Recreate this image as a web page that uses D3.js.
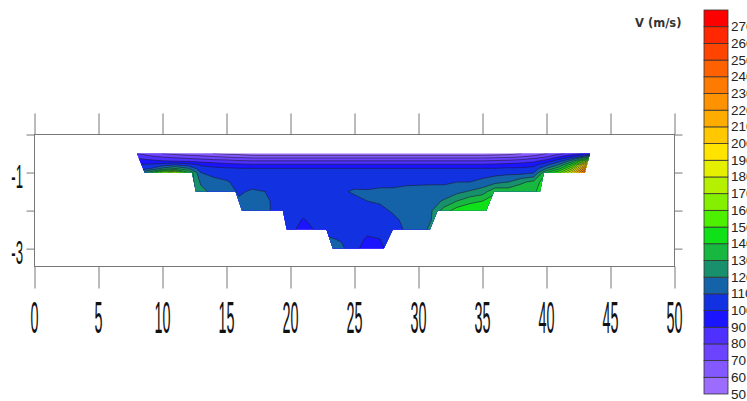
<!DOCTYPE html>
<html>
<head>
<meta charset="utf-8">
<script src="https://cdn.jsdelivr.net/npm/d3@7"></script>
<style>
  body { margin: 0; background: #fff; }
</style>
</head>
<body>
<div id="chart"></div>
<script>
// survey stations across the section (m) and sampling depths (m)
const stations = [8, 9, 10, 11, 12, 13, 14, 15, 16, 17, 18, 19, 20, 21, 22, 23, 24, 25, 26,
                  27, 28, 29, 30, 31, 32, 33, 34, 35, 36, 37, 38, 39, 40, 41, 42, 43, 44];
const depths = [-0.5, -0.56, -0.63, -0.7, -0.8, -0.9, -1.0, -1.25, -1.5, -1.75, -2.0, -2.25, -2.5, -2.75, -3.0];

// velocity profile at each station, one value per depth (top to bottom)
const velocity = [
  [80, 84, 90, 95, 101, 107, 115, 120, 120, 120, 120, 120, 120, 120, 120],
  [75, 80, 87, 93, 102, 110, 135, 140, 140, 140, 140, 140, 140, 140, 140],
  [70, 76, 84, 91, 106, 124, 165, 175, 175, 175, 175, 175, 175, 175, 175],
  [67, 74, 82, 90, 110, 132, 176, 185, 185, 185, 185, 185, 185, 185, 185],
  [64, 72, 80, 89, 106, 122, 142, 140, 136, 136, 136, 136, 136, 136, 136],
  [62, 70, 78, 87, 99, 104, 110, 118, 124, 124, 124, 124, 124, 124, 124],
  [60, 68, 76, 85, 96, 103, 107, 113, 116, 116, 116, 116, 116, 116, 116],
  [58, 65, 75, 84, 94, 102, 105, 111, 113, 113, 113, 113, 113, 113, 113],
  [57, 63, 73, 82, 93, 101, 104, 107, 109, 111, 112, 112, 112, 112, 112],
  [56, 61, 72, 81, 92, 101, 104, 107, 111, 114, 116, 116, 116, 116, 116],
  [55, 61, 72, 81, 92, 101, 104, 106, 110, 112, 113, 113, 113, 113, 113],
  [55, 61, 72, 81, 92, 101, 104, 106, 107, 107, 106, 104, 103, 103, 103],
  [55, 61, 72, 81, 92, 101, 104, 106, 107, 107, 106, 105, 103, 103, 103],
  [55, 61, 72, 81, 92, 101, 104, 106, 107, 106, 104, 99, 96, 95, 95],
  [55, 61, 72, 81, 92, 101, 104, 106, 107, 107, 106, 104, 101, 101, 101],
  [55, 61, 72, 81, 92, 101, 104, 106, 107, 107, 107, 107, 107, 111, 115],
  [55, 61, 72, 81, 92, 101, 104, 106, 109, 107, 106, 106, 106, 109, 112],
  [55, 61, 72, 81, 92, 101, 104, 107, 111, 108, 106, 105, 104, 103, 103],
  [55, 61, 72, 81, 92, 101, 104, 106, 111, 110, 106, 104, 102, 99, 95],
  [55, 61, 72, 81, 92, 101, 104, 107, 112, 111, 108, 105, 103, 100, 97],
  [55, 61, 72, 81, 92, 101, 104, 107, 112, 113, 111, 108, 106, 106, 106],
  [55, 61, 72, 81, 92, 101, 104, 108, 113, 114, 113, 112, 111, 111, 111],
  [55, 61, 72, 81, 92, 101, 104, 108, 114, 115, 116, 117, 118, 118, 118],
  [55, 61, 72, 81, 92, 101, 104, 108, 115, 117, 119, 120, 121, 121, 121],
  [55, 61, 72, 81, 92, 101, 104, 108, 115, 121, 135, 140, 140, 140, 140],
  [55, 61, 72, 81, 92, 101, 104, 110, 117, 130, 145, 150, 150, 150, 150],
  [55, 61, 72, 81, 92, 101, 104, 110, 121, 137, 148, 150, 150, 150, 150],
  [55, 61, 72, 81, 92, 101, 105, 113, 125, 140, 148, 150, 150, 150, 150],
  [56, 62, 73, 82, 93, 101, 106, 117, 138, 145, 148, 150, 150, 150, 150],
  [57, 63, 74, 83, 94, 102, 107, 120, 136, 140, 140, 140, 140, 140, 140],
  [60, 66, 76, 85, 95, 102, 106, 128, 137, 140, 140, 140, 140, 140, 140],
  [64, 70, 80, 88, 97, 104, 109, 133, 138, 140, 140, 140, 140, 140, 140],
  [70, 76, 86, 95, 108, 121, 140, 148, 148, 148, 148, 148, 148, 148, 148],
  [78, 86, 96, 107, 122, 138, 158, 165, 165, 165, 165, 165, 165, 165, 165],
  [85, 95, 110, 126, 148, 170, 192, 200, 200, 200, 200, 200, 200, 200, 200],
  [92, 110, 138, 165, 200, 225, 245, 250, 250, 250, 250, 250, 250, 250, 250],
  [100, 135, 175, 210, 245, 262, 272, 275, 275, 275, 275, 275, 275, 275, 275]
];

// channel outline (station, depth)
const section = [[8.0, -0.5], [8.6, -1.0], [12.3, -1.0], [12.6, -1.5], [15.7, -1.5], [16.2, -2.0],
  [19.4, -2.0], [19.7, -2.5], [22.8, -2.5], [23.3, -3.0], [27.3, -3.0], [28.0, -2.5], [30.9, -2.5],
  [31.5, -2.0], [35.3, -2.0], [35.9, -1.5], [39.5, -1.5], [39.8, -1.0], [43.0, -1.0], [43.4, -0.5]];

const levels = [50, 60, 70, 80, 90, 100, 110, 120, 130, 140, 150, 160, 170, 180, 190, 200, 210, 220, 230, 240, 250, 260, 270];
const levelColors = ["#9c6cff", "#8458ff", "#6c44ff", "#4e30ff", "#1a14ff", "#1232e2", "#1462a8", "#18906c",
  "#18b840", "#10e018", "#4cf000", "#84f000", "#b4f000", "#e4f000", "#ffe400", "#ffc800", "#ffac00",
  "#ff9200", "#ff7a00", "#ff6000", "#ff4400", "#ff2800", "#ff0000"];
const levelLabels = ["50", "60", "70", "80", "90", "100", "110", "120", "130", "140", "150", "160", "170",
  "180", "190", "200", "210", "220", "230", "240", "250", "260", "270"];
const levelTop = 280;

const xTicks = [0, 5, 10, 15, 20, 25, 30, 35, 40, 45, 50];
const yTicks = [0, -1, -2, -3];
const yTickLabels = [-1, -3];

const width = 747, height = 401;

const svg = d3.select("#chart").append("svg")
    .attr("width", width)
    .attr("height", height)
    .style("display", "block");

const x = d3.scaleLinear().domain([0, 50]).range([34.5, 674.5]);
const y = d3.scaleLinear().domain([0, -3.47]).range([134.5, 266.5]);

// contour grid, padded by one cell on each side so the bands do not
// have outlines along the grid edge
const nx = stations.length + 2, ny = depths.length + 2;
const grid = new Array(nx * ny);
for (let j = 0; j < ny; j++) {
    for (let i = 0; i < nx; i++) {
        const ci = Math.min(Math.max(i - 1, 0), stations.length - 1);
        const rj = Math.min(Math.max(j - 1, 0), depths.length - 1);
        grid[j * nx + i] = velocity[ci][rj];
    }
}
const colX = d3.scaleLinear().domain(d3.range(nx))
    .range([stations[0] - 1, ...stations, stations[stations.length - 1] + 1]);
const rowY = d3.scaleLinear().domain(d3.range(ny))
    .range([depths[0] + 0.1, ...depths, depths[depths.length - 1] - 0.1]);

const projection = d3.geoTransform({
    point(px, py) {
        this.stream.point(x(colX(px - 0.5)), y(rowY(py - 0.5)));
    }
});
const path = d3.geoPath(projection);
const bands = d3.contours().size([nx, ny]).thresholds(levels)(grid);

svg.append("clipPath").attr("id", "channel")
    .append("path")
    .attr("d", d3.line().x(d => x(d[0])).y(d => y(d[1]))(section) + "Z");

svg.append("g")
    .attr("clip-path", "url(#channel)")
    .selectAll("path")
    .data(bands)
    .join("path")
    .attr("d", path)
    .attr("fill", d => levelColors[levels.indexOf(d.value)])
    .attr("stroke", "#1c1c34")
    .attr("stroke-width", 0.6);

// frame and ticks
svg.append("rect")
    .attr("x", x(0)).attr("y", y(0))
    .attr("width", x(50) - x(0)).attr("height", y(-3.47) - y(0))
    .attr("fill", "none").attr("stroke", "#777");

const tickStyle = g => {
    g.select(".domain").remove();
    g.selectAll("line").attr("stroke", "#777");
};
svg.append("g").attr("transform", `translate(0,${y(0)})`)
    .call(d3.axisTop(x).tickValues(xTicks).tickSize(21).tickFormat(""))
    .call(tickStyle);
svg.append("g").attr("transform", `translate(0,${y(-3.47)})`)
    .call(d3.axisBottom(x).tickValues(xTicks).tickSize(22).tickFormat(""))
    .call(tickStyle);
svg.append("g").attr("transform", `translate(${x(0)},0)`)
    .call(d3.axisLeft(y).tickValues(yTicks).tickSize(8).tickFormat(""))
    .call(tickStyle);
svg.append("g").attr("transform", `translate(${x(50)},0)`)
    .call(d3.axisRight(y).tickValues(yTicks).tickSize(8).tickFormat(""))
    .call(tickStyle);

// tall narrow tick labels
svg.append("g")
    .selectAll("text")
    .data(xTicks)
    .join("text")
    .attr("transform", d => `translate(${x(d)},333) scale(0.32,1)`)
    .attr("text-anchor", "middle")
    .attr("font-family", "'Liberation Sans', Arial, sans-serif")
    .attr("font-size", 45)
    .attr("fill", "#111")
    .text(d => d);

svg.append("g")
    .selectAll("text")
    .data(yTickLabels)
    .join("text")
    .attr("transform", d => `translate(23,${y(d) + 15.5}) scale(0.4,1)`)
    .attr("text-anchor", "end")
    .attr("font-family", "'Liberation Sans', Arial, sans-serif")
    .attr("font-size", 33)
    .attr("fill", "#111")
    .text(d => d);

// colour bar (labels run off the right edge, as in the source image)
const cb = d3.scaleLinear().domain([levels[0], levelTop]).range([394, 10]);
const legend = svg.append("g");
legend.selectAll("rect")
    .data(levels)
    .join("rect")
    .attr("x", 704)
    .attr("y", (d, i) => cb(i < levels.length - 1 ? levels[i + 1] : levelTop))
    .attr("width", 24)
    .attr("height", (d, i) => cb(d) - cb(i < levels.length - 1 ? levels[i + 1] : levelTop))
    .attr("fill", (d, i) => levelColors[i])
    .attr("stroke", "#333")
    .attr("stroke-width", 0.8);
legend.selectAll("text")
    .data(levels)
    .join("text")
    .attr("x", 731)
    .attr("y", d => cb(d) + 4.5)
    .attr("font-family", "'Liberation Sans', Arial, sans-serif")
    .attr("font-size", 13.5)
    .attr("fill", "#222")
    .text((d, i) => levelLabels[i]);

svg.append("text")
    .attr("x", 635)
    .attr("y", 27)
    .attr("font-family", "'DejaVu Sans', sans-serif")
    .attr("font-weight", "bold")
    .attr("font-size", 11.5)
    .attr("fill", "#333")
    .text("V (m/s)");
</script>
</body>
</html>
